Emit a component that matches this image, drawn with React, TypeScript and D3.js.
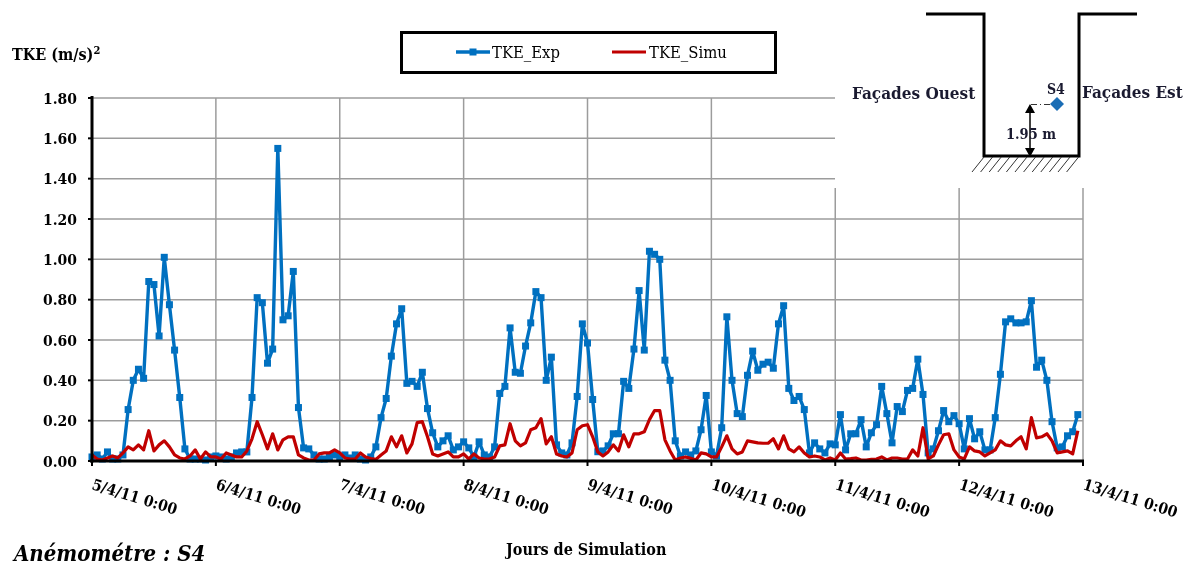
import React from "react";
import * as d3 from "d3";

const dayLabels = ["5/4/11 0:00","6/4/11 0:00","7/4/11 0:00","8/4/11 0:00","9/4/11 0:00","10/4/11 0:00","11/4/11 0:00","12/4/11 0:00","13/4/11 0:00"];
const yTicks = [0,0.2,0.4,0.6,0.8,1.0,1.2,1.4,1.6,1.8];

const tkeExp = [
 .02,.03,.01,.045,.01,.01,.03,.255,.40,.455,.41,.89,.875,.62,1.01,.775,.55,.315,.06,.01,.01,.01,.005,.02,
 .025,.02,.01,.02,.04,.045,.045,.315,.81,.785,.485,.555,1.55,.70,.72,.94,.265,.065,.06,.03,.01,.01,.02,.03,
 .02,.03,.015,.03,.01,.005,.02,.07,.215,.31,.52,.68,.755,.385,.395,.37,.44,.26,.14,.07,.10,.125,.055,.07,
 .095,.065,.02,.095,.03,.02,.07,.335,.37,.66,.44,.435,.57,.685,.84,.81,.40,.515,.08,.04,.03,.09,.32,.68,
 .585,.305,.046,.05,.075,.135,.135,.395,.36,.555,.845,.55,1.04,1.025,1.00,.50,.40,.10,.025,.045,.03,.05,.155,.325,
 .045,.025,.165,.715,.40,.235,.22,.425,.545,.45,.48,.49,.46,.68,.77,.36,.30,.32,.255,.04,.09,.06,.04,.085,
 .08,.23,.055,.135,.135,.205,.07,.14,.18,.37,.235,.09,.27,.245,.35,.36,.505,.33,.04,.06,.15,.25,.195,.225,
 .185,.06,.21,.11,.145,.055,.055,.215,.43,.69,.705,.685,.685,.69,.795,.465,.50,.40,.195,.065,.07,.125,.145,.23,
];
const tkeSimu = [
 .03,.01,.005,.015,.025,.015,.04,.07,.055,.08,.055,.15,.05,.08,.10,.07,.03,.015,.01,.025,.055,.01,.045,.02,
 .02,.01,.04,.03,.02,.02,.05,.11,.195,.13,.06,.135,.055,.105,.12,.12,.03,.015,.005,.005,.035,.04,.04,.055,
 .04,.015,.01,.01,.04,.02,.012,.008,.03,.05,.12,.07,.125,.04,.085,.19,.195,.12,.035,.025,.035,.045,.02,.02,
 .035,.01,.035,.015,.01,.01,.02,.075,.08,.185,.10,.075,.09,.155,.165,.21,.085,.12,.035,.025,.02,.04,.155,.175,
 .18,.12,.045,.025,.045,.08,.05,.13,.07,.135,.135,.145,.205,.25,.25,.105,.05,.005,.015,.02,.013,.005,.04,.035,
 .02,.02,.07,.125,.06,.035,.045,.10,.095,.09,.088,.088,.11,.06,.125,.06,.045,.07,.04,.02,.025,.02,.005,.015,
 .005,.04,.01,.012,.015,.005,.005,.008,.01,.02,.005,.015,.015,.01,.01,.055,.025,.165,.01,.025,.08,.13,.135,.055,
 .02,.01,.07,.05,.045,.025,.04,.055,.10,.08,.075,.10,.12,.06,.215,.115,.12,.135,.10,.04,.045,.05,.035,.15,
];
const hours = tkeExp.map((_, i) => i);
const BLUE = "#0070c0", RED = "#c00000", GRID = "#9c9c9c";
const serif = "'DejaVu Serif Condensed', 'DejaVu Serif', serif";

const x = d3.scaleLinear().domain([0, 192]).range([92, 1083]);
const y = d3.scaleLinear().domain([0, 1.8]).range([461, 98]);
const line = d3.line<number>().x((_, i) => x(i)).y(d => y(d));
const hatch = d3.range(0, 12);

export default function App() {
  return (
    <svg width={1193} height={565} style={{ position: "absolute", left: 0, top: 0, background: "#fff" }} fontFamily={serif}>
      <defs>
        <filter id="soft" filterUnits="userSpaceOnUse" x={0} y={0} width={1193} height={565} colorInterpolationFilters="sRGB">
          <feGaussianBlur stdDeviation="0.4" />
        </filter>
      </defs>
      <g filter="url(#soft)">
      {yTicks.slice(1).map(t => (
        <line key={t} x1={92} x2={t >= 1.4 ? 835 : 1083} y1={y(t)} y2={y(t)} stroke={GRID} strokeWidth={1.5} />
      ))}
      {dayLabels.map((_, i) => (
        <line key={i} x1={x(i * 24)} x2={x(i * 24)} y1={i >= 6 ? 188 : 98} y2={461} stroke={GRID} strokeWidth={1.5} />
      ))}
      <path d={line(tkeExp) as string} fill="none" stroke={BLUE} strokeWidth={3.4} strokeLinejoin="round" />
      {hours.map(i => (
        <rect key={i} x={x(i) - 3.5} y={y(tkeExp[i]) - 3.5} width={7} height={7} fill={BLUE} />
      ))}
      <path d={line(tkeSimu) as string} fill="none" stroke={RED} strokeWidth={3.2} strokeLinejoin="round" />
      <line x1={92} x2={92} y1={96} y2={462.5} stroke="#000" strokeWidth={3} />
      <line x1={90} x2={1084} y1={461} y2={461} stroke="#000" strokeWidth={3} />
      {yTicks.map(t => (
        <g key={t}>
          <line x1={88} x2={92} y1={y(t)} y2={y(t)} stroke="#000" strokeWidth={2} />
          <text x={77} y={y(t) + 5.5} textAnchor="end" fontSize={15.5} fontWeight="bold">{t.toFixed(2)}</text>
        </g>
      ))}
      {dayLabels.map((d, i) => (
        <g key={d}>
          <line x1={x(i * 24)} x2={x(i * 24)} y1={461} y2={466} stroke="#000" strokeWidth={2} />
          <text transform={`translate(${x(i * 24) - 1},${489}) rotate(17)`} fontSize={15.5} fontWeight="bold">{d}</text>
        </g>
      ))}
      <text x={12} y={60} fontSize={16} fontWeight="bold">TKE (m/s)<tspan fontSize={11} dy={-6}>2</tspan></text>
      <text x={506} y={555} fontSize={16} fontWeight="bold">Jours de Simulation</text>
      <text x={14} y={561} fontSize={22} fontWeight="bold" fontStyle="italic">Anémométre : S4</text>
      <rect x={401.5} y={32.5} width={374} height={40} fill="#fff" stroke="#000" strokeWidth={3} />
      <line x1={456} x2={490} y1={52} y2={52} stroke={BLUE} strokeWidth={3.4} />
      <rect x={469.5} y={48.5} width={7} height={7} fill={BLUE} />
      <text x={492} y={58} fontSize={16.5}>TKE_Exp</text>
      <line x1={612} x2={646} y1={52} y2={52} stroke={RED} strokeWidth={3.2} />
      <text x={649} y={58} fontSize={16.5}>TKE_Simu</text>
      <path d="M926 14H984V156H1079V14H1137" fill="none" stroke="#000" strokeWidth={3} />
      {hatch.map(i => (
        <line key={i} x1={984 + i * 8.6} x2={972 + i * 8.6} y1={157} y2={172} stroke="#333" strokeWidth={1} />
      ))}
      <line x1={1030} x2={1030} y1={110} y2={150} stroke="#000" strokeWidth={1.5} />
      <path d="M1030 104l-5 9h10zM1030 157l-5 -9h10z" fill="#000" />
      <line x1={1031} x2={1050} y1={104.5} y2={104.5} stroke="#333" strokeWidth={1} strokeDasharray="6 3 1 3" />
      <path d="M1057 97l7 7l-7 7l-7 -7z" fill="#1a6db5" />
      <text x={1047} y={94} fontSize={14} fontWeight="bold" fill="#1a1a30">S4</text>
      <text x={1006} y={139} fontSize={14.5} fontWeight="bold" fill="#1a1a30">1.95 m</text>
      <text x={852} y={99} fontSize={17} fontWeight="bold" fill="#1a1a30">Façades Ouest</text>
      <text x={1082} y={98} fontSize={17} fontWeight="bold" fill="#1a1a30">Façades Est</text>
      </g>
    </svg>
  );
}
